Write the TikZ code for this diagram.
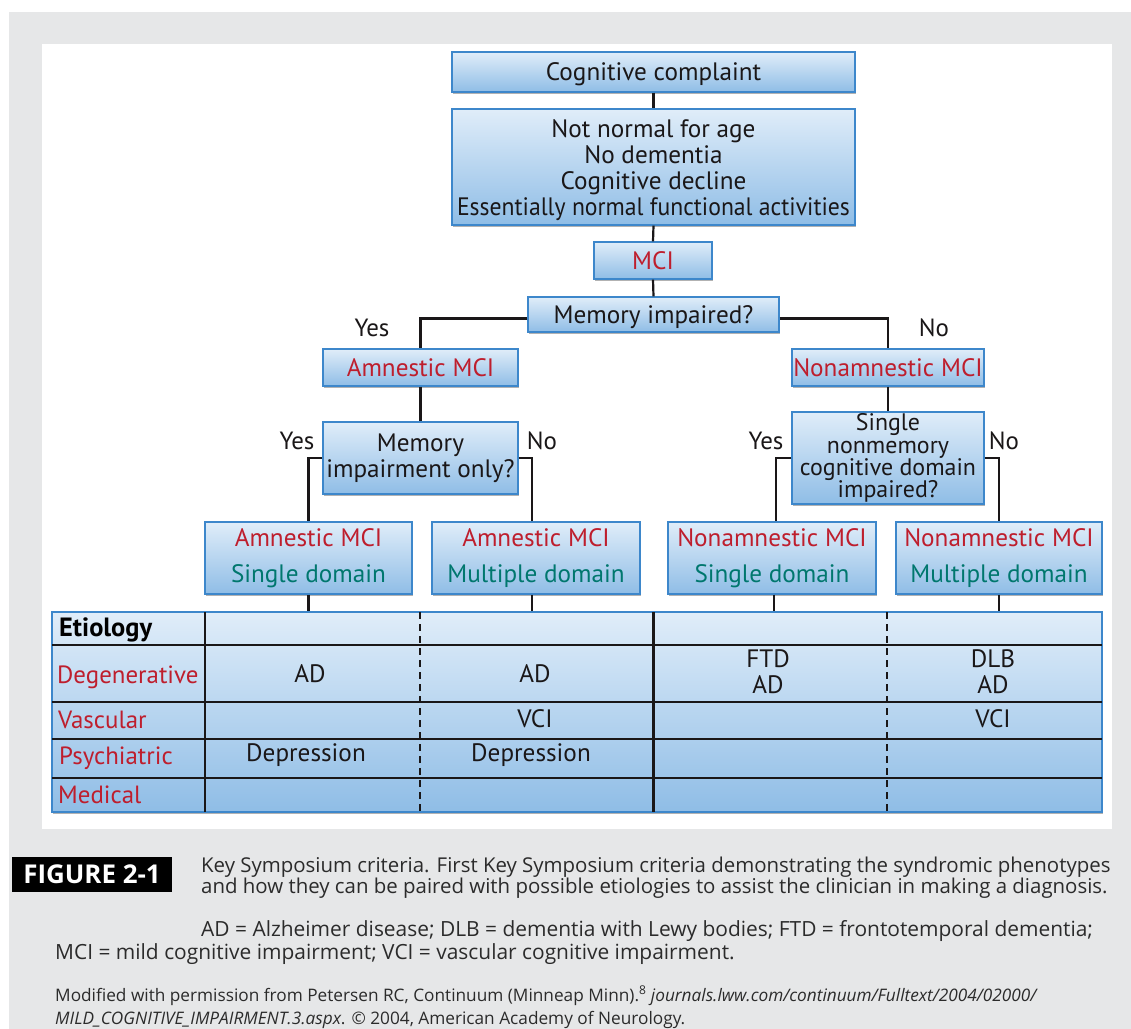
\documentclass[tikz,border=0pt]{standalone}
\usepackage{fontspec}
\setmainfont{PT Sans}
\newfontfamily\capfont{Open Sans}
\usetikzlibrary{shadows}
\definecolor{bgray}{HTML}{E6E7E8}
\definecolor{btop}{HTML}{E0EDF9}
\definecolor{bbot}{HTML}{8FBDE6}
\definecolor{bline}{HTML}{3D87CB}
\definecolor{tred}{HTML}{BE1E2D}
\definecolor{tteal}{HTML}{00776E}
\definecolor{ink}{HTML}{1A1718}
\definecolor{capink}{HTML}{2B2B2B}
\tikzset{
  boxfont/.style={font=\fontsize{25.3}{26}\selectfont},
  box/.style={draw=bline, line width=1.1bp, top color=btop, bottom color=bbot,
    inner sep=0pt, align=center, text=ink, boxfont,
    drop shadow={shadow xshift=1.2bp, shadow yshift=-1.6bp, opacity=0.3, fill=black}},
  onebox/.style={box, text height=17.5bp, text depth=0bp},
  conn/.style={draw=ink, line width=2.2bp},
  yn/.style={text=ink, font=\fontsize{25}{26}\selectfont, inner sep=0pt},
  grid/.style={draw=ink, line width=1.4bp},
  dgrid/.style={draw=ink, line width=1.6bp, dash pattern=on 7bp off 5bp},
  cell/.style={text=ink, font=\fontsize{25.3}{26}\selectfont, inner sep=0pt, align=center},
  rowlbl/.style={text=tred, font=\fontsize{25}{26}\selectfont, inner sep=0pt, anchor=base west},
  capline/.style={text=capink, inner sep=0pt, anchor=base west, font=\capfont\fontsize{20.5}{20}\selectfont},
  capline2/.style={capline, font=\capfont\fontsize{21}{20}\selectfont},
  srcline/.style={text=capink, inner sep=0pt, anchor=base west, font=\capfont\fontsize{17.3}{18}\selectfont}
}
\begin{document}
\begin{tikzpicture}[x=1bp,y=-1bp]
\useasboundingbox (0,0) rectangle (1131,1029);
\fill[white] (0,0) rectangle (1131,1029);
\fill[bgray] (9,12) rectangle (1131,1029);
\fill[white] (42,44) rectangle (1112,829);

% flowchart boxes
\node[onebox, minimum width=403bp, minimum height=40bp] (cc) at (653.5,72) {Cognitive complaint};
\node[box, minimum width=403bp, minimum height=116bp] (nn) at (653.5,167)
  {\rule{0pt}{24bp}Not normal for age\\No dementia\\Cognitive decline\\\scalebox{0.94}[1]{Essentially normal functional activities}};
\node[onebox, minimum width=118bp, minimum height=37bp, text=tred] (mci) at (653,260.5) {MCI};
\node[onebox, minimum width=251bp, minimum height=35bp] (mem) at (653.5,314.5) {Memory impaired?};
\node[onebox, minimum width=195bp, minimum height=37bp, text=tred] (am) at (420.5,367.5) {Amnestic MCI};
\node[onebox, minimum width=192bp, minimum height=37bp, text=tred] (nam) at (888,367.5) {Nonamnestic MCI};
\node[box, minimum width=195bp, minimum height=72bp] (memonly) at (420.5,458)
  {Memory\\impairment only?};
\node[box, minimum width=192bp, minimum height=92bp, font=\fontsize{24}{22.2}\selectfont] (single) at (888,458)
  {Single\\nonmemory\\cognitive domain\\impaired?};
\node[box, minimum width=207bp, minimum height=72bp, font=\fontsize{25.3}{36}\selectfont] (as) at (308.5,558)
  {\textcolor{tred}{Amnestic MCI}\\\textcolor{tteal}{Single domain}};
\node[box, minimum width=208bp, minimum height=72bp, font=\fontsize{25.3}{36}\selectfont] (amd) at (536,558)
  {\textcolor{tred}{Amnestic MCI}\\\textcolor{tteal}{Multiple domain}};
\node[box, minimum width=208bp, minimum height=72bp, font=\fontsize{25.3}{36}\selectfont] (ns) at (772,558)
  {\textcolor{tred}{Nonamnestic MCI}\\\textcolor{tteal}{Single domain}};
\node[box, minimum width=206bp, minimum height=72bp, font=\fontsize{25.3}{36}\selectfont] (nmd) at (999,558)
  {\textcolor{tred}{Nonamnestic MCI}\\\textcolor{tteal}{Multiple domain}};

% table
\node[draw=bline, line width=1.1bp, top color=btop, bottom color=bbot, inner sep=0pt,
  minimum width=1050bp, minimum height=200bp,
  drop shadow={shadow xshift=1.2bp, shadow yshift=-1.6bp, opacity=0.3, fill=black}] (tbl) at (577,712) {};
\foreach \yy in {645,702,739,778} \draw[grid] (52,\yy) -- (1102,\yy);
\draw[grid] (205,612) -- (205,812);
\draw[draw=ink, line width=3bp] (653,612) -- (653,812);
\draw[dgrid] (420,612) -- (420,812);
\draw[dgrid] (887,612) -- (887,812);

% connectors
\coordinate (amdn) at ([xshift=-4bp]amd.north);
\coordinate (amds) at ([xshift=-4bp]amd.south);
\coordinate (nsn) at ([xshift=4bp]ns.north);
\coordinate (nss) at ([xshift=2bp]ns.south);
\draw[conn] (cc.south) -- (nn.north);
\draw[conn] (nn.south) -- (mci.north);
\draw[conn] (mci.south) -- (mem.north);
\draw[conn] ([yshift=-4bp]mem.west) -| (am.north);
\draw[conn] ([yshift=-4bp]mem.east) -| (nam.north);
\draw[conn] (am.south) -- (memonly.north);
\draw[conn] (nam.south) -- (single.north);
\draw[conn] (memonly.west) -| (as.north);
\draw[conn] (memonly.east) -| (amdn);
\draw[conn] (single.west) -| (nsn);
\draw[conn] (single.east) -| (nmd.north);
\draw[conn] (as.south) -- (as.south |- tbl.north);
\draw[conn] (amds) -- (amds |- tbl.north);
\draw[conn] (nss) -- (nss |- tbl.north);
\draw[conn] (nmd.south) -- (nmd.south |- tbl.north);

% yes / no
\node[yn] (y1) at (372,328) {Yes};
\node[yn] (n1) at (934,328) {No};
\node[yn] (y2) at (297,441) {Yes};
\node[yn] (n2) at (542,441) {No};
\node[yn] (y3) at (766,441) {Yes};
\node[yn] (n3) at (1004,441) {No};

% table text
\node[inner sep=0pt, anchor=base west, text=black, font=\fontsize{26.5}{26}\selectfont\bfseries] (et) at (59,636) {Etiology};
\node[rowlbl] (deg) at (57,683) {Degenerative};
\node[rowlbl] (vas) at (58,728) {Vascular};
\node[rowlbl] (psy) at (59,764) {Psychiatric};
\node[rowlbl] (med) at (58,803) {Medical};
\node[cell] (c1) at (310,674) {AD};
\node[cell] (c2) at (306,755) {Depression};
\node[cell] (c3) at (535,674) {AD};
\node[cell] (c4) at (535,719) {VCI};
\node[cell] (c5) at (531,755) {Depression};
\node[cell] (c6) at (768,672) {FTD\\AD};
\node[cell] (c7) at (993,672) {DLB\\AD};
\node[cell] (c8) at (993,719) {VCI};

% caption
\node[fill=black, minimum width=160bp, minimum height=35bp, inner sep=0pt, text=white,
  font=\capfont\bfseries\fontsize{26}{26}\selectfont] (fig) at (92,874.5) {FIGURE 2-1};
\node[capline] (l1) at (201,872) {Key Symposium criteria. First Key Symposium criteria demonstrating the syndromic phenotypes};
\node[capline] (l2) at (201,893) {and how they can be paired with possible etiologies to assist the clinician in making a diagnosis.};
\node[capline2] (l3) at (201,936) {AD = Alzheimer disease; DLB = dementia with Lewy bodies; FTD = frontotemporal dementia;};
\node[capline2] (l4) at (55,959) {MCI = mild cognitive impairment; VCI = vascular cognitive impairment.};
\node[srcline] (l5) at (55,1001) {Modified with permission from Petersen RC, Continuum (Minneap Minn).\textsuperscript{8} \textit{journals.lww.com/continuum/Fulltext/2004/02000/}};
\node[srcline] (l6) at (55,1024) {\textit{MILD\_COGNITIVE\_IMPAIRMENT.3.aspx}. © 2004, American Academy of Neurology.};
\end{tikzpicture}
\end{document}
